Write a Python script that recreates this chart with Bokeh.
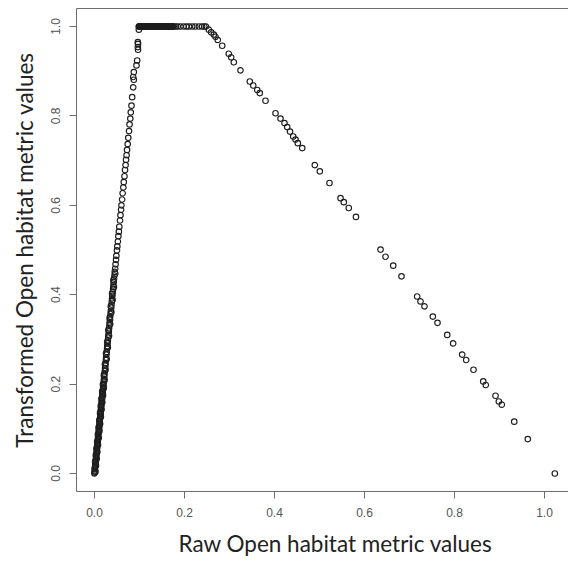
from bokeh.plotting import figure
from bokeh.models import LinearAxis, Range1d, FixedTicker, Title
from bokeh.embed import file_html
from bokeh.resources import INLINE

# Rising segment
rise_x = [0.0000, 0.0003, 0.0004, 0.0010, 0.0012, 0.0017, 0.0019, 0.0025, 0.0026, 0.0032,
          0.0034, 0.0040, 0.0042, 0.0047, 0.0049, 0.0055, 0.0057, 0.0063, 0.0065, 0.0070,
          0.0072, 0.0078, 0.0080, 0.0086, 0.0088, 0.0094, 0.0096, 0.0102, 0.0104, 0.0110,
          0.0112, 0.0118, 0.0120, 0.0126, 0.0128, 0.0134, 0.0136, 0.0142, 0.0144, 0.0150,
          0.0152, 0.0158, 0.0160, 0.0166, 0.0168, 0.0174, 0.0176, 0.0182, 0.0184, 0.0190,
          0.0192, 0.0198, 0.0200,
          0.0207, 0.0211, 0.0218, 0.0222, 0.0230, 0.0235, 0.0242, 0.0246, 0.0255, 0.0258,
          0.0267, 0.0271, 0.0280, 0.0284, 0.0292, 0.0297, 0.0305, 0.0310, 0.0319, 0.0324,
          0.0332, 0.0337, 0.0345, 0.0350, 0.0358, 0.0363, 0.0372, 0.0377, 0.0386, 0.0391,
          0.0399, 0.0405, 0.0414, 0.0420, 0.0429, 0.0435, 0.0444, 0.0450, 0.0459,
          0.0468, 0.0479, 0.0486, 0.0500, 0.0507, 0.0520, 0.0530, 0.0542, 0.0551, 0.0567,
          0.0577, 0.0591, 0.0599, 0.0614, 0.0626, 0.0641, 0.0651, 0.0666, 0.0678, 0.0691,
          0.0701, 0.0713, 0.0723, 0.0738, 0.0750, 0.0767, 0.0779, 0.0795, 0.0806, 0.0822,
          0.0837, 0.0860, 0.0874, 0.0860, 0.0874, 0.0933, 0.0948, 0.0967, 0.0963, 0.0967,
          0.0963, 0.0985, 0.0985]
rise_y = [0.000, 0.002, 0.005, 0.009, 0.013, 0.016, 0.020, 0.024, 0.027, 0.031,
          0.035, 0.039, 0.043, 0.046, 0.050, 0.054, 0.058, 0.062, 0.066, 0.069,
          0.073, 0.077, 0.081, 0.085, 0.089, 0.093, 0.097, 0.101, 0.105, 0.109,
          0.113, 0.117, 0.121, 0.125, 0.129, 0.133, 0.137, 0.141, 0.145, 0.149,
          0.153, 0.157, 0.161, 0.165, 0.169, 0.173, 0.177, 0.181, 0.185, 0.189,
          0.193, 0.197, 0.201,
          0.206, 0.212, 0.217, 0.223, 0.229, 0.236, 0.241, 0.247, 0.254, 0.259,
          0.266, 0.272, 0.279, 0.285, 0.291, 0.298, 0.304, 0.311, 0.318, 0.325,
          0.331, 0.338, 0.344, 0.351, 0.357, 0.364, 0.371, 0.378, 0.385, 0.392,
          0.398, 0.406, 0.413, 0.421, 0.428, 0.436, 0.443, 0.451, 0.458,
          0.468, 0.478, 0.487, 0.499, 0.508, 0.519, 0.531, 0.541, 0.552, 0.566,
          0.578, 0.590, 0.600, 0.613, 0.627, 0.640, 0.652, 0.665, 0.679, 0.690,
          0.702, 0.712, 0.724, 0.737, 0.751, 0.766, 0.781, 0.794, 0.808, 0.823,
          0.842, 0.864, 0.881, 0.887, 0.898, 0.913, 0.924, 0.948, 0.954, 0.961,
          0.965, 0.993, 1.000]

# Additional dense points along the lower rising segment
rise2_x = [0.0022, 0.0004, 0.0033, 0.0014, 0.0048, 0.0029, 0.0063, 0.0044, 0.0079, 0.0059,
           0.0094, 0.0075, 0.0110, 0.0091, 0.0126, 0.0107, 0.0142, 0.0123, 0.0158, 0.0139,
           0.0174, 0.0155, 0.0190, 0.0171, 0.0206, 0.0187, 0.0224, 0.0208, 0.0247, 0.0232,
           0.0271, 0.0256, 0.0297, 0.0282, 0.0323, 0.0309, 0.0349, 0.0336, 0.0376, 0.0362,
           0.0403, 0.0390, 0.0432, 0.0420, 0.0462]
rise2_y = [0.004, 0.011, 0.018, 0.026, 0.033, 0.041, 0.048, 0.056, 0.064, 0.071,
           0.079, 0.087, 0.095, 0.103, 0.111, 0.119, 0.127, 0.135, 0.143, 0.151,
           0.159, 0.167, 0.175, 0.183, 0.191, 0.199, 0.209, 0.220, 0.232, 0.244,
           0.256, 0.268, 0.282, 0.294, 0.308, 0.321, 0.334, 0.348, 0.361, 0.374,
           0.388, 0.402, 0.417, 0.432, 0.447]

# Plateau segment
flat_x = [0.099, 0.100, 0.101, 0.1025, 0.104, 0.105, 0.106, 0.1075, 0.109, 0.110,
          0.111, 0.1125, 0.114, 0.1155, 0.117, 0.118, 0.119, 0.1205, 0.122, 0.1235,
          0.125, 0.126, 0.127, 0.1285, 0.130, 0.1315, 0.133, 0.134, 0.135, 0.1365,
          0.138, 0.1395, 0.141, 0.142, 0.143, 0.1445, 0.146, 0.1475, 0.149, 0.150,
          0.151, 0.1525, 0.154, 0.1555, 0.157, 0.1585, 0.160, 0.161, 0.162, 0.1635,
          0.165, 0.1665, 0.168, 0.169, 0.170, 0.1715, 0.173, 0.1745, 0.176,
          0.181, 0.185, 0.191, 0.198, 0.204, 0.210, 0.217, 0.224, 0.232, 0.239,
          0.244, 0.248]
flat_y = [1.0] * len(flat_x)

# Falling segment
fall_x = [0.254, 0.2593, 0.2651, 0.2689, 0.274, 0.2838, 0.2984, 0.3038, 0.3096, 0.3244,
          0.3451, 0.3527, 0.3616, 0.3673, 0.380, 0.4022, 0.4133, 0.4222, 0.4282, 0.4345,
          0.4416, 0.4467, 0.4518, 0.4616, 0.4896, 0.5007, 0.5222, 0.5467, 0.554, 0.565,
          0.581, 0.6356, 0.6467, 0.6638, 0.6822, 0.717, 0.7244, 0.7333, 0.7518, 0.7622,
          0.7838, 0.797, 0.817, 0.826, 0.8422, 0.8638, 0.8696, 0.8911, 0.8985, 0.9051,
          0.9327, 0.9629, 1.0229]
fall_y = [0.993, 0.987, 0.982, 0.977, 0.970, 0.957, 0.939, 0.931, 0.920, 0.902,
          0.877, 0.868, 0.858, 0.851, 0.834, 0.806, 0.794, 0.784, 0.775, 0.765,
          0.754, 0.747, 0.739, 0.728, 0.690, 0.676, 0.650, 0.616, 0.607, 0.594,
          0.574, 0.501, 0.485, 0.465, 0.441, 0.396, 0.385, 0.374, 0.351, 0.337,
          0.310, 0.291, 0.266, 0.254, 0.232, 0.206, 0.198, 0.174, 0.161, 0.154,
          0.116, 0.077, 0.000]

ticks = [0.0, 0.2, 0.4, 0.6, 0.8, 1.0]
tick_labels = {0.0: "0.0", 0.2: "0.2", 0.4: "0.4", 0.6: "0.6", 0.8: "0.8", 1.0: "1.0"}
x_title = "Raw Open habitat metric values"
y_title = "Transformed Open habitat metric values"

p = figure(width=568, height=567, output_backend="svg", toolbar_location=None,
           x_range=Range1d(-0.04, 1.0533), y_range=Range1d(-0.0403, 1.0403),
           min_border_left=76, min_border_right=0, min_border_top=8, min_border_bottom=76,
           y_axis_label=y_title)
p.outline_line_color = None
p.grid.visible = False
p.background_fill_color = "white"
p.border_fill_color = "white"

for xs, ys in ((rise_x, rise_y), (rise2_x, rise2_y), (flat_x, flat_y), (fall_x, fall_y)):
    p.scatter(xs, ys, marker="circle", size=5.5, fill_color=None,
              line_color="#1e1e1e", line_width=1.15)

axis_col = "#6e6e6e"
for ax in (p.xaxis[0], p.yaxis[0]):
    ax.ticker = FixedTicker(ticks=ticks)
    ax.major_label_overrides = tick_labels
    ax.minor_tick_line_color = None
    ax.axis_line_color = axis_col
    ax.major_tick_line_color = axis_col
    ax.major_tick_out = 7
    ax.major_tick_in = 0
    ax.major_label_text_font = "Liberation Sans"
    ax.major_label_text_font_size = "12px"
    ax.major_label_text_color = "#555555"
    ax.axis_label_text_font = "Lato"
    ax.axis_label_text_font_size = "22.5px"
    ax.axis_label_text_font_style = "normal"
    ax.axis_label_text_color = "#222222"

p.xaxis.major_label_standoff = 9
p.yaxis.major_label_orientation = "vertical"
p.yaxis.major_label_standoff = 9
p.yaxis.axis_label_standoff = 11

p.add_layout(Title(text=x_title, align="left", offset=102, standoff=16,
                   text_font="Lato", text_font_size="22.5px",
                   text_font_style="normal", text_color="#222222"), "below")

top = LinearAxis(axis_line_color=axis_col, major_tick_line_color=None,
                 minor_tick_line_color=None, major_label_text_font_size="0px",
                 ticker=FixedTicker(ticks=[]))
p.add_layout(top, "above")

open("out.html", "w").write(file_html(p, INLINE))
